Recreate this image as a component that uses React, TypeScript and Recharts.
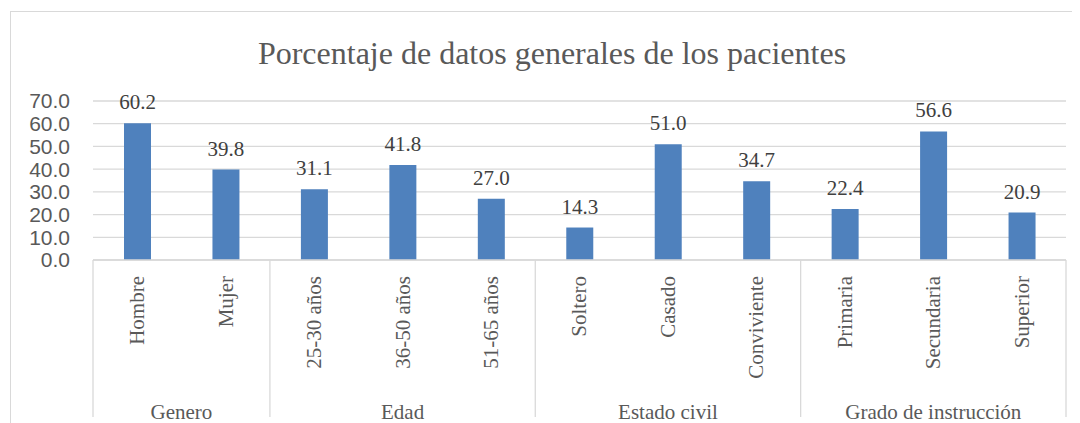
import React from 'react';
import { BarChart, Bar, XAxis, YAxis, CartesianGrid, LabelList } from 'recharts';

const categories = [
  'Hombre', 'Mujer',
  '25-30 años', '36-50 años', '51-65 años',
  'Soltero', 'Casado', 'Conviviente',
  'Primaria', 'Secundaria', 'Superior'
];
const percentages = [60.2, 39.8, 31.1, 41.8, 27.0, 14.3, 51.0, 34.7, 22.4, 56.6, 20.9];
const groups = ['Genero', 'Edad', 'Estado civil', 'Grado de instrucción'];
const groupSizes = [2, 3, 3, 3];
const yTicks = [0, 10, 20, 30, 40, 50, 60, 70];

const data = categories.map((name, i) => ({ name, value: percentages[i] }));

// index of first category in each group
const groupStarts: number[] = [];
groupSizes.reduce((acc, n) => {
  groupStarts.push(acc);
  return acc + n;
}, 0);

const serif = 'Liberation Serif, Tinos, "DejaVu Serif", serif';
const sans = 'Liberation Sans, Arimo, Arial, sans-serif';
const gray = '#595959';
const lineColor = '#d9d9d9';
const Fragment = React.Fragment;

const CategoryTick = (props: any) => {
  const { x, y, payload, index } = props;
  const half = payload && typeof payload.offset === 'number' && payload.offset > 0 ? payload.offset : 44;
  const g = groupStarts.indexOf(index);
  const last = index === categories.length - 1;
  return (
    <g>
      <text
        x={x}
        y={y + 16}
        transform={`rotate(-90, ${x}, ${y + 16})`}
        textAnchor='end'
        dy='0.33em'
        style={{ fontFamily: serif, fontSize: 21, fill: gray }}
      >
        {payload.value}
      </text>
      {g >= 0 && (
        <Fragment>
          <line x1={x - half} x2={x - half} y1={y} y2={y + 157} stroke={lineColor} strokeWidth={1.3} />
          <text
            x={x + (groupSizes[g] - 1) * half}
            y={y + 159}
            textAnchor='middle'
            style={{ fontFamily: serif, fontSize: 21, fill: gray }}
          >
            {groups[g]}
          </text>
        </Fragment>
      )}
      {last && <line x1={x + half} x2={x + half} y1={y} y2={y + 157} stroke={lineColor} strokeWidth={1.3} />}
    </g>
  );
};

export default function App() {
  return (
    <div style={{ position: 'relative', width: 1072, height: 415 }}>
      <div
        style={{
          position: 'absolute',
          left: 2,
          top: 3,
          width: 1070,
          height: 412,
          borderTop: `1.5px solid ${lineColor}`,
          borderLeft: `1.5px solid ${lineColor}`
        }}
      />
      <div
        style={{
          position: 'absolute',
          left: 16,
          top: 29,
          width: 1056,
          textAlign: 'center',
          fontFamily: serif,
          fontSize: 32,
          lineHeight: '32px',
          color: gray
        }}
      >
        Porcentaje de datos generales de los pacientes
      </div>
      <BarChart
        width={1072}
        height={415}
        data={data}
        margin={{ top: 93, right: 14, bottom: 0, left: 0 }}
        style={{ position: 'absolute', left: 0, top: 0 }}
      >
        <CartesianGrid vertical={false} stroke={lineColor} strokeWidth={1.3} />
        <XAxis
          dataKey='name'
          interval={0}
          height={163}
          tickSize={0}
          tickMargin={0}
          tickLine={false}
          axisLine={{ stroke: lineColor, strokeWidth: 1.3 }}
          tick={<CategoryTick />}
        />
        <YAxis
          width={85}
          domain={[0, 70]}
          ticks={yTicks}
          interval={0}
          axisLine={false}
          tickLine={false}
          tickMargin={17}
          tickFormatter={(v: number) => v.toFixed(1)}
          tick={{ fontFamily: sans, fontSize: 21, fill: gray }}
        />
        <Bar dataKey='value' fill='#4F81BD' barSize={27} isAnimationActive={false}>
          <LabelList
            dataKey='value'
            position='top'
            offset={14}
            formatter={(v: any) => Number(v).toFixed(1)}
            style={{ fontFamily: serif, fontSize: 21, fill: '#404040' }}
          />
        </Bar>
      </BarChart>
    </div>
  );
}
